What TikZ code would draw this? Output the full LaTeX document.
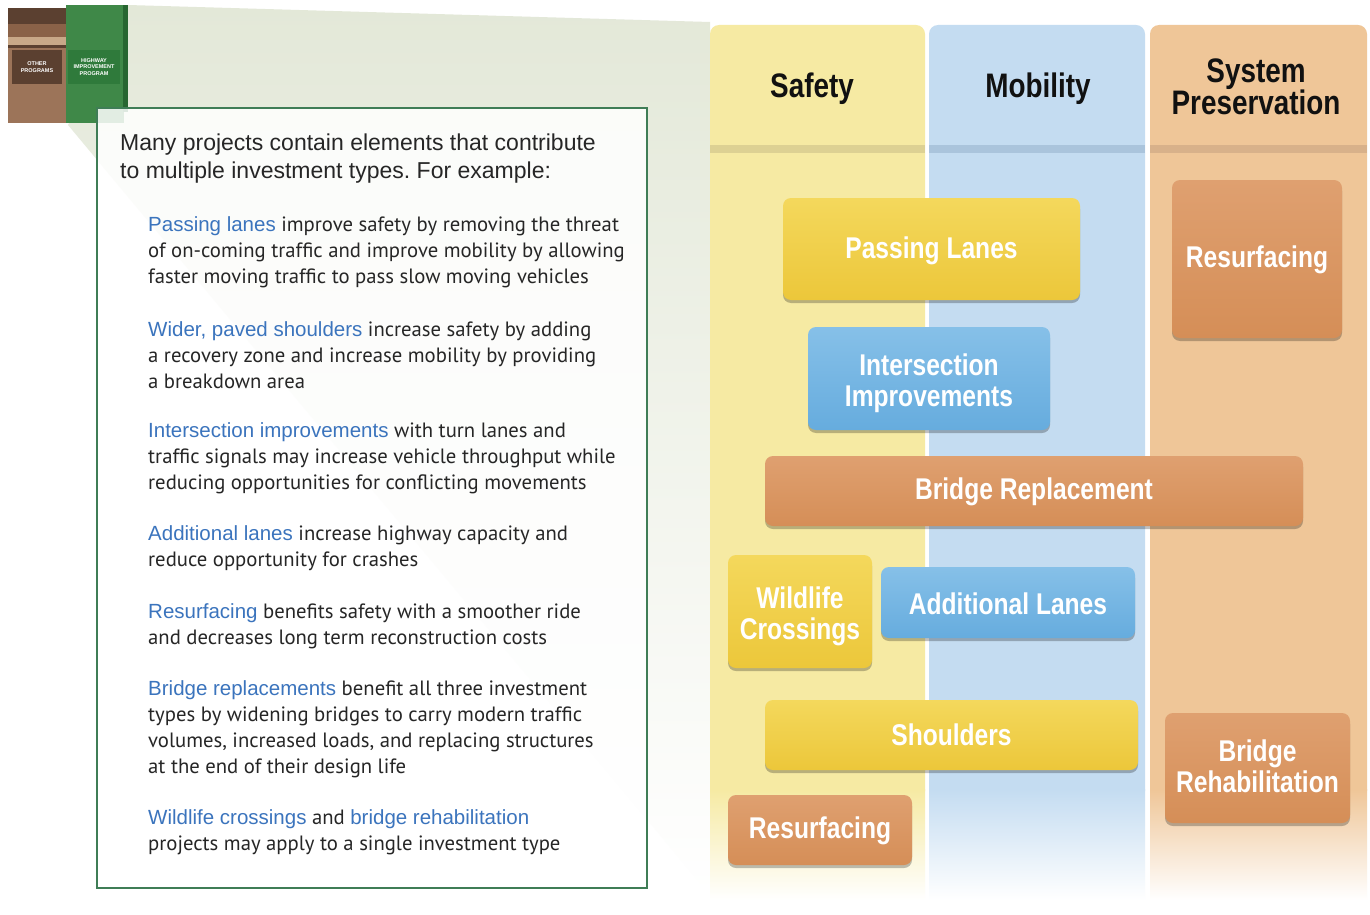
\documentclass[tikz,border=0pt]{standalone}
\usepackage{fontspec}
\setmainfont{Liberation Sans}
\newfontfamily\hfont{Liberation Sans}
\newfontfamily\bfont{PT Sans}
\newfontfamily\cfont[FakeStretch=0.82]{Liberation Sans}
\usetikzlibrary{shadows}
\frenchspacing
\definecolor{wedgec}{HTML}{E3E8D8}
\definecolor{boxgreen}{HTML}{3F7D56}
\definecolor{brownmid}{HTML}{9C7459}
\definecolor{browndark}{HTML}{5B4030}
\definecolor{brownstripe}{HTML}{8A6248}
\definecolor{browntan}{HTML}{C8A888}
\definecolor{greenmid}{HTML}{3F8848}
\definecolor{greendark}{HTML}{276631}
\definecolor{greenlabel}{HTML}{2F7A3B}
\definecolor{safetyc}{HTML}{F6EAA3}
\definecolor{mobilc}{HTML}{C4DCF1}
\definecolor{presc}{HTML}{EFC698}
\definecolor{safetyband}{HTML}{DDD193}
\definecolor{mobilband}{HTML}{AAC4DC}
\definecolor{presband}{HTML}{D8B18A}
\definecolor{ybase}{HTML}{ECC73A}
\definecolor{ylt}{HTML}{F4D85C}
\definecolor{bbase}{HTML}{66ACDE}
\definecolor{blt}{HTML}{86C0E8}
\definecolor{obase}{HTML}{D58E57}
\definecolor{olt}{HTML}{DFA070}
\definecolor{termblue}{HTML}{3B74BD}
\definecolor{bodytxt}{HTML}{262626}
\definecolor{headtxt}{HTML}{111111}
\newcommand\term[1]{{\hfont\fontsize{20.5}{25.8}\selectfont\color{termblue}#1}}
\tikzset{
  colhead/.style={font=\cfont\bfseries\fontsize{34}{32}\selectfont, text=headtxt, align=center, inner sep=0pt},
  proj/.style 2 args={minimum width=#1pt, minimum height=#2pt, rounded corners=8pt, inner sep=0pt,
    drop shadow={shadow xshift=0pt, shadow yshift=-3pt, opacity=.25, fill=black}},
  projtext/.style={align=center, text=white, inner sep=0pt, font=\cfont\bfseries\fontsize{30}{31}\selectfont},
  ybox/.style={top color=ylt, bottom color=ybase},
  bbox/.style={top color=blt, bottom color=bbase},
  obox/.style={top color=olt, bottom color=obase},
  para/.style={anchor=west, align=left, inner sep=0pt, text=bodytxt, font=\bfont\fontsize{20.7}{25.8}\selectfont},
  tiny/.style={text=white, font=\hfont\bfseries\fontsize{5.5}{6.5}\selectfont, align=center, inner sep=0pt}
}
\begin{document}
\begin{tikzpicture}[x=1pt,y=-1pt]
\useasboundingbox (0,0) rectangle (1370,915);
\fill[white] (0,0) rectangle (1370,915);
% wedge
\shade[top color=wedgec, bottom color=white] (128,5) -- (710,22) -- (710,895) -- (68,125) -- cycle;
% icon
\fill[brownmid] (8,8) rectangle (66,123);
\fill[browndark] (8,8) rectangle (66,24);
\fill[brownstripe] (8,24) rectangle (66,37);
\fill[browntan] (8,37) rectangle (66,45);
\fill[browndark] (8,45) rectangle (66,48);
\fill[browndark] (12,50) rectangle (62,84);
\node[tiny] (other) at (37,67) {OTHER\\PROGRAMS};
\fill[greenmid] (66,5) rectangle (124,123);
\fill[greendark] (123,5) rectangle (128,112);
\fill[greenlabel] (68,50) rectangle (120,84);
\node[tiny] (hip) at (94,67) {HIGHWAY\\IMPROVEMENT\\PROGRAM};
% text box
\node[draw=boxgreen, line width=2.5pt, fill=white, fill opacity=0.85, draw opacity=1,
  minimum width=550pt, minimum height=780pt, inner sep=0pt] (tbox) at (372,498) {};
\node[anchor=west, align=left, inner sep=0pt, text=bodytxt, font=\hfont\fontsize{23}{28}\selectfont] (head) at (120,159)
  {Many projects contain elements that contribute\\to multiple investment types. For example:};
\node[para] (p1) at (148,252) {\term{Passing lanes} improve safety by removing the threat\\of on-coming traffic and improve mobility by allowing\\faster moving traffic to pass slow moving vehicles};
\node[para] (p2) at (148,355) {\term{Wider, paved shoulders} increase safety by adding\\a recovery zone and increase mobility by providing\\a breakdown area};
\node[para] (p3) at (148,458.2) {\term{Intersection improvements} with turn lanes and\\traffic signals may increase vehicle throughput while\\reducing opportunities for conflicting movements};
\node[para] (p4) at (148,548.5) {\term{Additional lanes} increase highway capacity and\\reduce opportunity for crashes};
\node[para] (p5) at (148,626) {\term{Resurfacing} benefits safety with a smoother ride\\and decreases long term reconstruction costs};
\node[para] (p6) at (148,729.1) {\term{Bridge replacements} benefit all three investment\\types by widening bridges to carry modern traffic\\volumes, increased loads, and replacing structures\\at the end of their design life};
\node[para] (p7) at (148,832.3) {\term{Wildlife crossings} and \term{bridge rehabilitation}\\projects may apply to a single investment type};
% columns
\foreach \xa/\xb/\c/\bd in {710/925/safetyc/safetyband, 929/1145/mobilc/mobilband, 1150/1367/presc/presband}{
  \fill[\c, rounded corners=9pt] (\xa,25) rectangle (\xb,800);
  \fill[\c] (\xa,700) rectangle (\xb,790);
  \shade[top color=\c, bottom color=white] (\xa,789.5) rectangle (\xb,900);
  \fill[\bd] (\xa,145) rectangle (\xb,153);
}
\node[colhead] (hsafety) at (812,89) {Safety};
\node[colhead] (hmobil) at (1038,89) {Mobility};
\node[colhead] (hpres) at (1256,87) {System\\Preservation};
% project boxes
\node[proj={297}{102}, ybox, label={[projtext, yshift=-2pt]center:Passing Lanes}] (passing) at (931.5,249) {};
\node[proj={170}{158}, obox, label={[projtext, yshift=-1pt]center:Resurfacing}] (resurf1) at (1257,259) {};
\node[proj={242}{103}, bbox, label={[projtext, yshift=-5pt]center:Intersection\\Improvements}] (inter) at (929,378.5) {};
\node[proj={538}{70}, obox, label={[projtext, yshift=-1pt]center:Bridge Replacement}] (bridgerep) at (1034,491) {};
\node[proj={144}{113}, ybox, label={[projtext, yshift=-4.5pt]center:Wildlife\\Crossings}] (wild) at (800,611.5) {};
\node[proj={254}{71}, bbox, label={[projtext, yshift=-1pt]center:Additional Lanes}] (addl) at (1008,602.5) {};
\node[proj={373}{70}, ybox, label={[projtext]center:Shoulders}] (should) at (951.5,735) {};
\node[proj={185}{110}, obox, label={[projtext, yshift=2pt]center:Bridge\\Rehabilitation}] (bridgereh) at (1257.5,768) {};
\node[proj={184}{70}, obox, label={[projtext, yshift=-1pt]center:Resurfacing}] (resurf2) at (820,830) {};
\end{tikzpicture}
\end{document}
